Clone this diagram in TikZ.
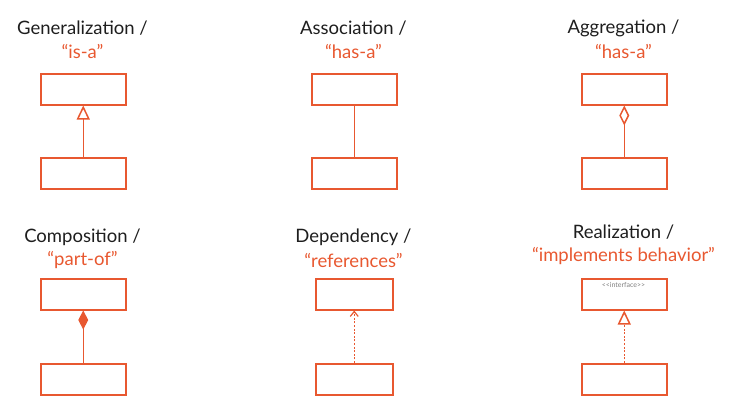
\documentclass[tikz,border=0pt]{standalone}
\usepackage{fontspec}
\setmainfont{Lato}
\usetikzlibrary{arrows.meta}
\definecolor{uml}{RGB}{232,88,48}
\definecolor{titlec}{RGB}{30,30,30}
\begin{document}
\begin{tikzpicture}[x=1pt,y=-1pt,
  cls/.style={draw=uml,line width=1.5pt,minimum width=85pt,minimum height=31pt,inner sep=0pt,anchor=north west},
  ttl/.style={text=titlec,font=\fontsize{18.5}{22}\selectfont,inner sep=0pt},
  sub/.style={text=uml,font=\fontsize{18.5}{22}\selectfont,inner sep=0pt},
  conn/.style={draw=uml,line width=1.5pt},
  dashconn/.style={conn,dash pattern=on 2pt off 1.6pt}
]
\useasboundingbox (0,0) rectangle (748,413);
% Generalization
\node[ttl] (t1) at (82.5,28) {Generalization /};
\node[sub] (s1) at (82.5,51) {“is-a”};
\node[cls] (g1) at (40,73) {};
\node[cls] (g2) at (40,157) {};
\draw[conn,-{Triangle[open,length=14pt,width=13pt]}] (g2.north) -- (g1.south);
% Association
\node[ttl] (t2) at (353.5,28) {Association /};
\node[sub] (s2) at (353.5,51) {“has-a”};
\node[cls] (a1) at (311,73) {};
\node[cls] (a2) at (311,157) {};
\draw[conn] (a2.north) -- (a1.south);
% Aggregation
\node[ttl] (t3) at (623.5,28) {Aggregation /};
\node[sub] (s3) at (623.5,51) {“has-a”};
\node[cls] (r1) at (581,73) {};
\node[cls] (r2) at (581,157) {};
\draw[conn,-{Diamond[open,length=20pt,width=10pt]}] (r2.north) -- (r1.south);
% Composition
\node[ttl] (t4) at (82.5,237) {Composition /};
\node[sub] (s4) at (82.5,260) {“part-of”};
\node[cls] (c1) at (40,278) {};
\node[cls] (c2) at (40,363) {};
\draw[conn,-{Diamond[length=19pt,width=10pt]}] (c2.north) -- (c1.south);
% Dependency
\node[ttl] (t5) at (353.5,237) {Dependency /};
\node[sub] (s5) at (353.5,260) {“references”};
\node[cls,minimum width=77pt] (d1) at (315,278) {};
\node[cls,minimum width=77pt] (d2) at (315,363) {};
\draw[dashconn,-{Straight Barb[length=5pt,width=8pt,line width=1.2pt]}] (d2.north) -- (d1.south);
% Realization
\node[ttl] (t6) at (623.5,232) {Realization /};
\node[sub] (s6) at (623.5,256) {“implements behavior”};
\node[cls] (i1) at (581,278) {};
\node[text=gray,font=\fontsize{7}{8}\selectfont,inner sep=0pt] (il) at (623.5,285) {{<}{<}interface{>}{>}};
\node[cls] (i2) at (581,363) {};
\draw[dashconn,-{Triangle[open,length=14pt,width=13pt,line width=1.5pt]}] (i2.north) -- (i1.south);
\end{tikzpicture}
\end{document}
